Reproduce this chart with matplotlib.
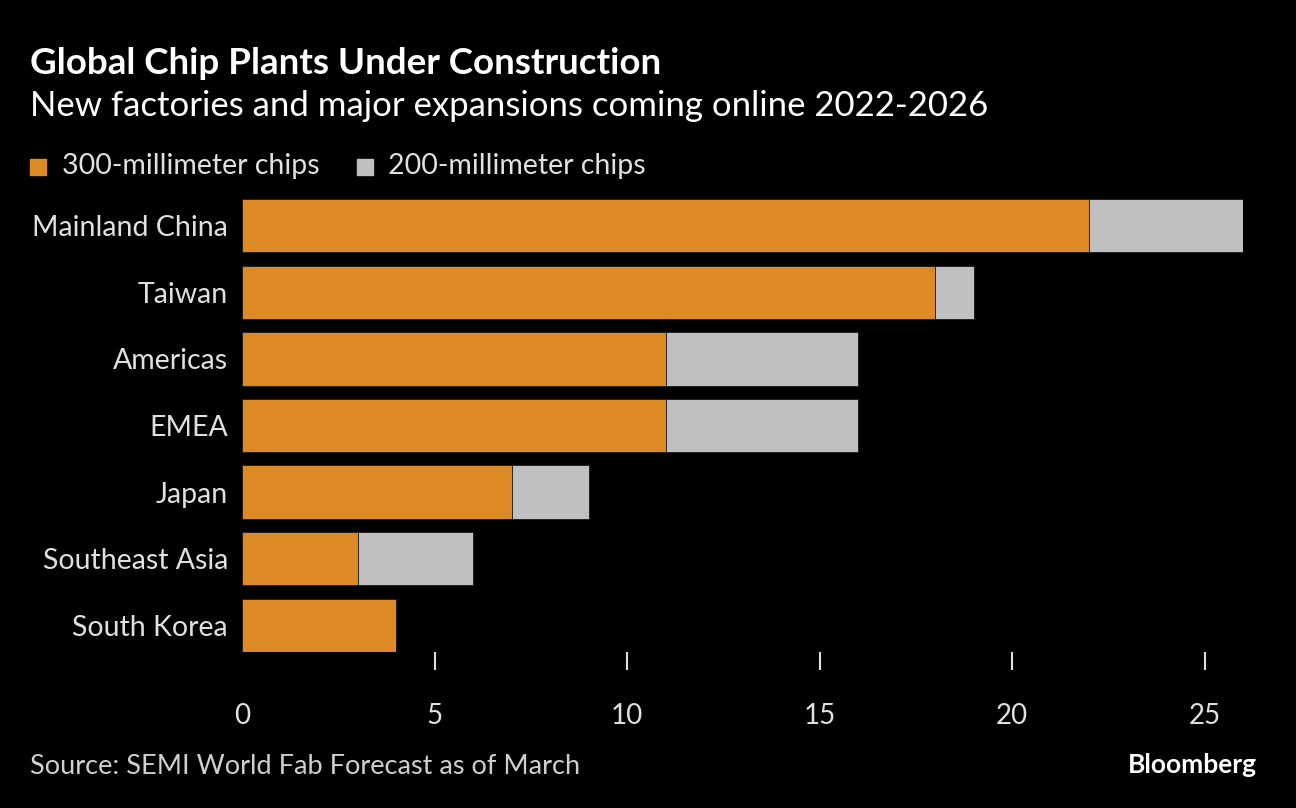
import matplotlib.pyplot as plt

plt.rcParams['font.family'] = ['Lato', 'DejaVu Sans']

regions = ['Mainland China', 'Taiwan', 'Americas', 'EMEA', 'Japan', 'Southeast Asia', 'South Korea']
mm300 = [22, 18, 11, 11, 7, 3, 4]
mm200 = [4, 1, 5, 5, 2, 3, 0]

orange = '#dd8a26'
grey = '#c0c0c0'
bg = '#000000'

fig = plt.figure(figsize=(12.96, 8.08), dpi=100, facecolor=bg)
ax = fig.add_axes([242/1296, 1-652/808, (1243-242)/1296, (652-199)/808], facecolor=bg)

y = list(range(len(regions)))
ax.barh(y, mm300, height=0.8, color=orange, edgecolor='#1a1a1a', linewidth=0.6)
ax.barh(y, mm200, left=mm300, height=0.8, color=grey, edgecolor='#1a1a1a', linewidth=0.6)

ax.set_ylim(len(regions)-0.6, -0.4)
ax.set_xlim(0, 26)
ax.set_yticks(y)
ax.set_yticklabels(regions, fontsize=20.5, color='#e0e0e0')
ax.tick_params(axis='y', length=0, pad=10)
ax.set_xticks([0, 5, 10, 15, 20, 25])
ax.tick_params(axis='x', colors='#e0e0e0', labelsize=20, length=13, width=1.5, pad=24)
ax.get_xticklines()[0].set_visible(False)
for s in ax.spines.values():
    s.set_visible(False)

fig.text(30/1296, 1-63/808, 'Global Chip Plants Under Construction', fontsize=26.5,
         fontweight='bold', color='white', va='center')
fig.text(30/1296, 1-106/808, 'New factories and major expansions coming online 2022-2026',
         fontsize=25, color='white', va='center')

# legend
fig.patches.append(plt.Rectangle((30/1296, 1-175/808), 16/1296, 16/808, color=orange,
                                 transform=fig.transFigure))
fig.text(62/1296, 1-166/808, '300-millimeter chips', fontsize=20.5, color='#e0e0e0', va='center')
fig.patches.append(plt.Rectangle((357/1296, 1-175/808), 16/1296, 16/808, color=grey,
                                 transform=fig.transFigure))
fig.text(388/1296, 1-166/808, '200-millimeter chips', fontsize=20.5, color='#e0e0e0', va='center')

fig.text(30/1296, 1-767/808, 'Source: SEMI World Fab Forecast as of March', fontsize=19.5,
         color='#cfcfcf', va='center')
fig.text(1257/1296, 1-765/808, 'Bloomberg', fontsize=19, fontweight='bold', color='white',
         va='center', ha='right')

fig.savefig('out.png', facecolor=bg)
